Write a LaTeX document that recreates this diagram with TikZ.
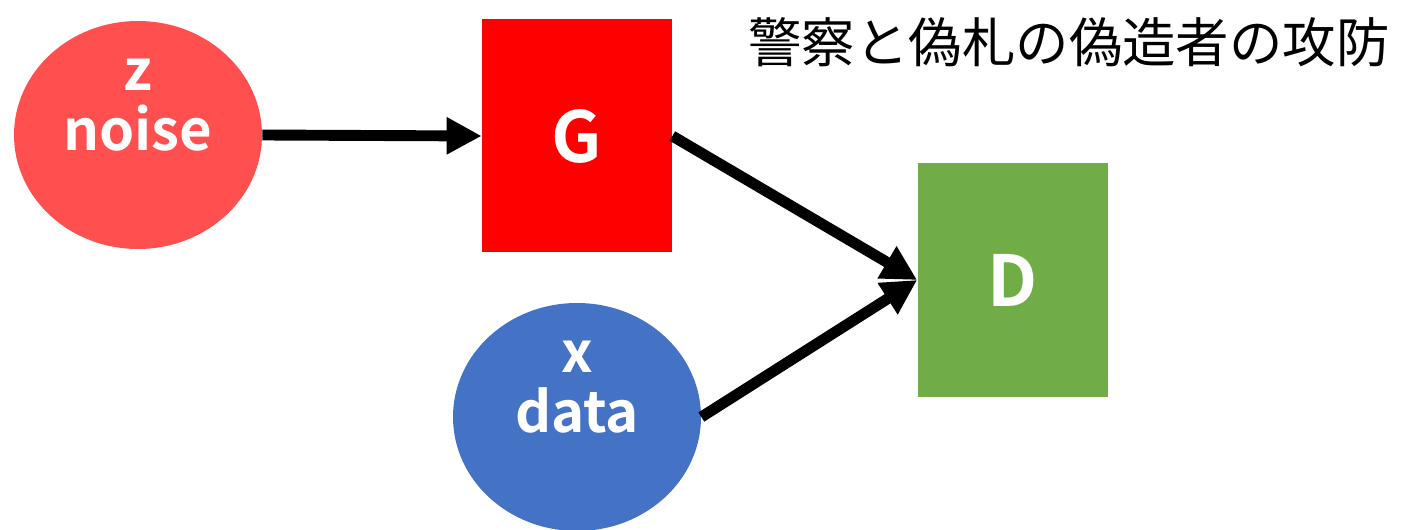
\documentclass[tikz,border=0pt]{standalone}
\usepackage{fontspec}
\setmainfont{Noto Sans CJK JP}
\newfontfamily\labelfont{Noto Sans CJK JP Bold}
\usetikzlibrary{arrows.meta}
\usetikzlibrary{positioning}
\usetikzlibrary{shapes.geometric}

\definecolor{noisered}{HTML}{FF4F4F}
\definecolor{datablue}{HTML}{4472C4}
\definecolor{discgreen}{HTML}{70AD47}

\tikzset{
  blob/.style={ellipse, inner sep=0pt, minimum width=4.96cm, minimum height=4.56cm,
    text=white, align=center, font=\labelfont\fontsize{32}{34}\selectfont},
  net/.style={rectangle, inner sep=0pt, minimum width=3.8cm, minimum height=4.66cm,
    text=white, font=\labelfont\fontsize{40}{44}\selectfont},
  flow/.style={line width=6.2pt, -{Triangle[length=0.7cm,width=0.7cm]}},
}

\begin{document}
\begin{tikzpicture}
    \useasboundingbox (0,0) rectangle (28.28,-10.6);

    \node[blob, fill=noisered] (noise) at (2.76,-2.70) {z\\noise\\\mbox{}};
    \node[net, fill=red] (G) at (11.54,-2.72) {G};
    \node[blob, fill=datablue] (data) at (11.54,-8.34) {x\\data\\\mbox{}};
    \node[net, fill=discgreen] (D) at (20.25,-5.60) {D};

    \node[font=\fontsize{30.4}{34}\selectfont, inner sep=0pt] (title) at (21.38,-0.84)
      {警察と偽札の偽造者の攻防};

    % generator path and real data into the discriminator
    \draw[flow] (noise.east) -- (G.west);
    \draw[flow] (G.east) -- (D.west);
    \draw[flow] (data.east) -- (D.west);
\end{tikzpicture}
\end{document}
